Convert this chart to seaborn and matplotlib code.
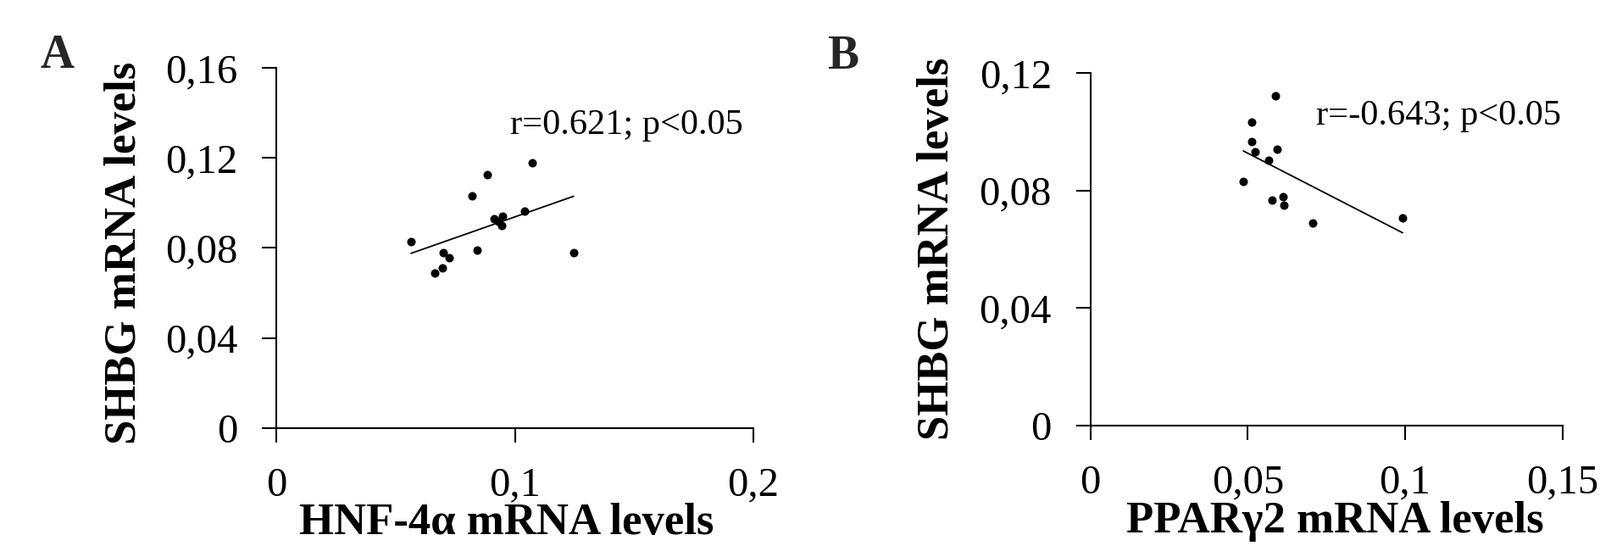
import matplotlib
matplotlib.use("Agg")
import matplotlib.pyplot as plt
import pandas as pd
import seaborn as sb

# Painel A - HNF-4a vs SHBG
hnf4a = [0.0565, 0.0820, 0.0885, 0.1072, 0.0843, 0.0701, 0.0725, 0.0665,
         0.0695, 0.0914, 0.0950, 0.0944, 0.0931, 0.1042, 0.1246]
shbg_a = [0.0830, 0.1033, 0.1125, 0.1179, 0.0789, 0.0780, 0.0755, 0.0688,
          0.0711, 0.0931, 0.0943, 0.0899, 0.0918, 0.0965, 0.0780]

# Painel B - PPARg2 vs SHBG
ppar = [0.0587, 0.0513, 0.0513, 0.0522, 0.0592, 0.0566, 0.0486, 0.0576,
        0.0611, 0.0614, 0.0706, 0.0992]
shbg_b = [0.1122, 0.1034, 0.0965, 0.0931, 0.0941, 0.0902, 0.0831, 0.0766,
          0.0780, 0.0749, 0.0689, 0.0708]

xticks_a = [0, 0.1, 0.2]
xlabels_a = ["0", "0,1", "0,2"]
yticks_a = [0, 0.04, 0.08, 0.12, 0.16]
ylabels_a = ["0", "0,04", "0,08", "0,12", "0,16"]

xticks_b = [0, 0.05, 0.1, 0.15]
xlabels_b = ["0", "0,05", "0,1", "0,15"]
yticks_b = [0, 0.04, 0.08, 0.12]
ylabels_b = ["0", "0,04", "0,08", "0,12"]

texto_a = "r=0.621; p<0.05"
texto_b = "r=-0.643; p<0.05"

sb.set_theme(style="white")
plt.rcParams['font.family'] = ['Liberation Serif', 'DejaVu Serif']

fig = plt.figure(figsize=(18.88, 6.44), dpi=100)
ax_a = fig.add_axes([0.17267, 0.21584, 0.29820, 0.65994])
ax_b = fig.add_axes([0.68151, 0.22050, 0.29502, 0.64596])


def painel(ax, x, y, xticks, xlabels, yticks, ylabels, xlabel, texto, pos_texto, xlab_coords, ylab_coords):
    df = pd.DataFrame({'x': x, 'y': y})
    sb.regplot(data=df, x='x', y='y', ax=ax, ci=None,
               scatter_kws={'color': 'black', 's': 52, 'marker': 'D', 'linewidths': 0, 'alpha': 1},
               line_kws={'color': 'black', 'lw': 1.3})
    ax.set_xlim(xticks[0], xticks[-1])
    ax.set_ylim(yticks[0], yticks[-1])
    ax.set_xticks(xticks)
    ax.set_xticklabels(xlabels)
    ax.set_yticks(yticks)
    ax.set_yticklabels(ylabels)
    ax.tick_params(direction='out', length=12, width=1.5, pad=21, labelsize=35,
                   colors='black', bottom=True, left=True)
    for lado in ['top', 'right']:
        ax.spines[lado].set_visible(False)
    for lado in ['left', 'bottom']:
        ax.spines[lado].set_color('black')
        ax.spines[lado].set_linewidth(1.5)
    ax.set_xlabel(xlabel, fontsize=38, fontweight='bold', color='black')
    ax.set_ylabel('SHBG mRNA levels', fontsize=38, fontweight='bold', color='black')
    ax.xaxis.set_label_coords(*xlab_coords)
    ax.yaxis.set_label_coords(*ylab_coords)
    ax.text(pos_texto[0], pos_texto[1], texto, fontsize=30.5, ha='left', va='center', color='black')


painel(ax_a, hnf4a, shbg_a, xticks_a, xlabels_a, yticks_a, ylabels_a,
       'HNF-4α mRNA levels', texto_a, (0.098, 0.1346), (0.483, -0.207), (-0.275, 0.485))
painel(ax_b, ppar, shbg_b, xticks_b, xlabels_b, yticks_b, ylabels_b,
       'PPARγ2 mRNA levels', texto_b, (0.0717, 0.1053), (0.518, -0.214), (-0.281, 0.502))

fig.text(67 / 1888, 1 - 66 / 644, 'A', fontsize=40, fontweight='bold', ha='center', va='center')
fig.text(995 / 1888, 1 - 67 / 644, 'B', fontsize=40, fontweight='bold', ha='center', va='center')

fig.savefig('out.png', dpi=100)
